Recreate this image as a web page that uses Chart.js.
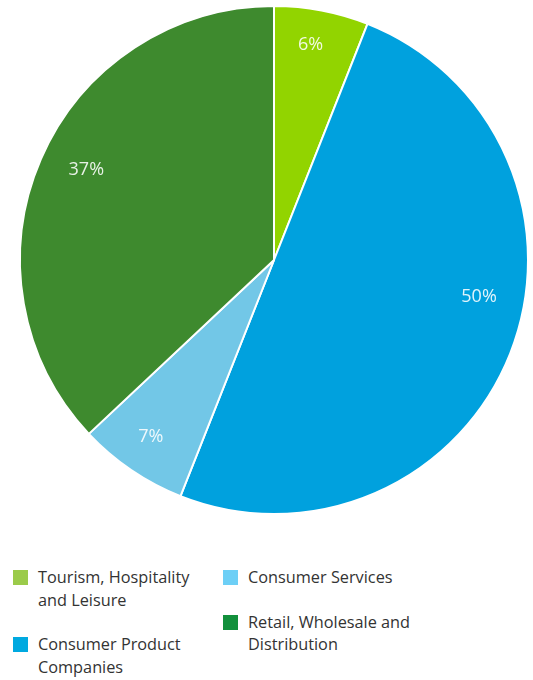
<!DOCTYPE html>
<html>
<head>
<meta charset="utf-8">
<script src="https://cdn.jsdelivr.net/npm/chart.js@4"></script>
<style>
  body { margin: 0; background: #fff; font-family: "Open Sans", sans-serif; }
  #wrap { position: relative; width: 533px; height: 520px; }
  #legend { position: absolute; top: 566px; left: 13px; display: flex; color: #333; font-size: 16.3px; line-height: 22.5px; }
  #legend .col { width: 210px; }
  #legend .item { display: flex; margin-bottom: 22px; }
  #legend .sw { width: 15px; height: 15px; flex: none; margin: 4px 10px 0 0; }
</style>
</head>
<body>
<div id="wrap"><canvas id="pieChart"></canvas></div>
<div id="legend"></div>
<script>
// sector shares
var labels = ['Tourism, Hospitality and Leisure', 'Consumer Product Companies', 'Consumer Services', 'Retail, Wholesale and Distribution'];
var shares = [6, 50, 7, 37];
var sliceColors = ['#92d400', '#00a1de', '#72c7e7', '#3e8a2e'];
var keyColors = ['#9bcb4a', '#00a9e0', '#6dcff6', '#12903c'];
var legendText = [['Tourism, Hospitality', 'and Leisure'], ['Consumer Product', 'Companies'], ['Consumer Services'], ['Retail, Wholesale and', 'Distribution']];

// percent labels inside each slice
var sliceLabels = {
    id: 'sliceLabels',
    afterDatasetsDraw: function(chart, args, opts) {
        var ctx = chart.ctx;
        var arcs = chart.getDatasetMeta(0).data;
        ctx.save();
        ctx.font = '18px "Open Sans"';
        ctx.fillStyle = 'rgba(255,255,255,0.88)';
        ctx.textAlign = 'center';
        ctx.textBaseline = 'middle';
        arcs.forEach(function(arc, i) {
            var a = (arc.startAngle + arc.endAngle) / 2 + (opts.shift[i] || 0);
            var r = arc.outerRadius * opts.radius[i];
            ctx.fillText(shares[i] + '%', arc.x + Math.cos(a) * r, arc.y + Math.sin(a) * r);
        });
        ctx.restore();
    }
};

var ctx = document.getElementById('pieChart').getContext('2d');
var myChart = new Chart(ctx, {
    type: 'pie',
    data: {
        labels: labels,
        datasets: [{
            data: shares,
            backgroundColor: sliceColors,
            borderColor: '#fff',
            borderWidth: 2
        }]
    },
    options: {
        responsive: true,
        maintainAspectRatio: false,
        animation: false,
        layout: { padding: { left: 15, top: 5, bottom: 5 } },
        plugins: {
            legend: { display: false },
            tooltip: { enabled: false },
            sliceLabels: { radius: [0.86, 0.82, 0.85, 0.82], shift: [-0.02, -0.2, 0.01, 0.04] }
        }
    },
    plugins: [sliceLabels]
});

// two-column legend
var legend = document.getElementById('legend');
[[0, 1], [2, 3]].forEach(function(idx) {
    var col = document.createElement('div');
    col.className = 'col';
    idx.forEach(function(i) {
        var item = document.createElement('div');
        item.className = 'item';
        item.innerHTML = '<span class="sw" style="background:' + keyColors[i] + '"></span><span>' + legendText[i].join('<br>') + '</span>';
        col.appendChild(item);
    });
    legend.appendChild(col);
});
</script>
</body>
</html>
